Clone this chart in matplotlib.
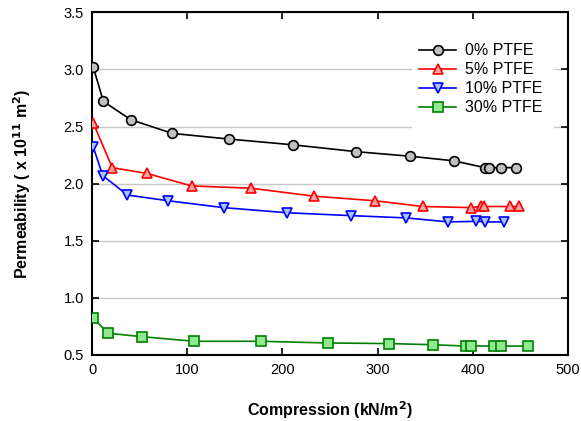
import matplotlib
matplotlib.use("Agg")
import matplotlib.pyplot as plt
from matplotlib.patches import Rectangle

plt.rcParams['font.family'] = ['Liberation Sans', 'DejaVu Sans']

# data
x0 = [1, 11.6, 40.4, 84, 144, 211, 277.5, 334, 380, 413, 417.5, 429.5, 445.5]
y0 = [3.02, 2.72, 2.56, 2.44, 2.39, 2.34, 2.28, 2.24, 2.20, 2.14, 2.14, 2.14, 2.14]

x5 = [1, 21, 57, 104.5, 167, 233.5, 297.5, 347.5, 398, 408.5, 412, 439, 449]
y5 = [2.53, 2.14, 2.09, 1.98, 1.96, 1.89, 1.85, 1.80, 1.79, 1.80, 1.80, 1.80, 1.80]

x10 = [1, 11, 37, 80, 138, 205, 272, 330, 374.5, 404, 413, 433]
y10 = [2.32, 2.07, 1.90, 1.85, 1.79, 1.745, 1.72, 1.70, 1.665, 1.67, 1.665, 1.665]

x30 = [1, 17, 52.5, 107, 177, 248, 312, 358, 393, 398, 422, 430, 458]
y30 = [0.82, 0.69, 0.66, 0.62, 0.62, 0.605, 0.60, 0.59, 0.578, 0.58, 0.578, 0.578, 0.578]

labels = ['0% PTFE', '5% PTFE', '10% PTFE', '30% PTFE']

fig = plt.figure(figsize=(5.81, 4.21), dpi=100)
ax = fig.add_axes([0.1589, 0.1568, 0.8182, 0.814])

ms = 7
ax.plot(x0, y0, '-', color='black', lw=1.2, marker='o', ms=ms,
        mfc='#c0c0c0', mec='black', mew=1.2, label=labels[0], zorder=3)
ax.plot(x5, y5, '-', color='red', lw=1.2, marker='^', ms=ms,
        mfc='#f4a3a3', mec='red', mew=1.2, label=labels[1], zorder=3)
ax.plot(x10, y10, '-', color='blue', lw=1.2, marker='v', ms=ms,
        mfc='#a8c4f4', mec='blue', mew=1.2, label=labels[2], zorder=3)
ax.plot(x30, y30, '-', color='green', lw=1.2, marker='s', ms=ms - 0.5,
        mfc='#90e890', mec='green', mew=1.2, label=labels[3], zorder=3)

ax.set_xlim(0, 500)
ax.set_ylim(0.5, 3.5)
ax.set_xticks([0, 100, 200, 300, 400, 500])
ax.set_yticks([0.5, 1.0, 1.5, 2.0, 2.5, 3.0, 3.5])
ax.set_yticklabels(['0.5', '1.0', '1.5', '2.0', '2.5', '3.0', '3.5'])
ax.yaxis.grid(True, color='#c8c8c8', lw=1.0, zorder=0)
ax.set_axisbelow(True)

ax.tick_params(direction='in', length=5, width=1.2, labelsize=10.5,
               top=True, right=True, pad=6)
for sp in ax.spines.values():
    sp.set_linewidth(1.5)

ax.set_xlabel('Compression (kN/m$^\\mathbf{2}$)', fontsize=11.5,
              fontweight='bold', labelpad=16)
ax.set_ylabel('Permeability ( x 10$^\\mathbf{11}$ m$^\\mathbf{2}$)',
              fontsize=11.5, fontweight='bold', labelpad=22)

# white block behind the legend (hides the grid there)
ax.add_patch(Rectangle((0.6725, 0.651), 0.2985, 0.297, transform=ax.transAxes,
                       facecolor='white', edgecolor='none', zorder=1))

leg = ax.legend(loc='upper left', bbox_to_anchor=(0.688, 0.91),
                fontsize=11.5, frameon=False, handlelength=2.3,
                handletextpad=0.55, labelspacing=0.25, borderpad=0,
                borderaxespad=0)
leg.set_zorder(5)

fig.savefig('out.png', dpi=100)
